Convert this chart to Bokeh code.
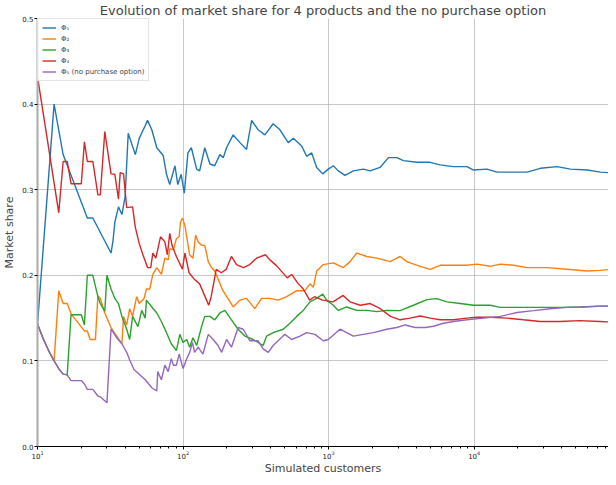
import numpy as np
from bokeh.plotting import figure
from bokeh.models import FixedTicker, NumeralTickFormatter, Legend, LegendItem, LogTicker
from bokeh.embed import file_html
from bokeh.resources import INLINE

# ---- data ----
phi1_n = [10, 13, 15, 22, 24, 32, 33, 34, 36, 38, 40, 42, 47, 50, 55, 57, 61, 66, 73, 77, 81, 88, 92, 97,
          102, 108, 114, 124, 130, 141, 153, 165, 179, 189, 199, 221, 246, 273, 296, 328, 365, 416, 463,
          528, 572, 653, 707, 765, 828, 911, 995, 1077, 1166, 1297, 1479, 1733, 1927, 2258, 2576, 2943,
          3267, 4040, 4988, 5845, 7213, 8925, 9906, 12250, 14360, 17720, 23090, 28500, 37140, 45850,
          59750, 73770, 100000]
phi1_v = [0.143, 0.400, 0.341, 0.267, 0.267, 0.226, 0.240, 0.262, 0.280, 0.271, 0.292, 0.366, 0.341,
          0.360, 0.375, 0.381, 0.370, 0.349, 0.340, 0.318, 0.306, 0.328, 0.306, 0.318, 0.296, 0.343,
          0.349, 0.324, 0.322, 0.349, 0.330, 0.328, 0.341, 0.3375, 0.349, 0.364, 0.355, 0.347, 0.381,
          0.370, 0.364, 0.377, 0.370, 0.355, 0.360, 0.351, 0.339, 0.343, 0.326, 0.3185, 0.324, 0.328,
          0.322, 0.3167, 0.322, 0.324, 0.322, 0.326, 0.3375, 0.3375, 0.334, 0.332, 0.332, 0.329, 0.327,
          0.327, 0.323, 0.324, 0.3205, 0.3205, 0.3205, 0.325, 0.327, 0.324, 0.323, 0.3205, 0.319]

phi2_n = [10, 11, 12, 13, 14, 15, 16, 17, 21, 22, 23, 25, 26, 27, 29, 32, 38, 39, 41, 43, 45, 48, 50, 54,
          56, 59, 62, 66, 71, 75, 79, 81, 86, 90, 94, 96, 99, 103, 111, 117, 122, 127, 134, 141, 149, 157,
          165, 188, 221, 246, 273, 311, 346, 395, 451, 515, 603, 688, 745, 785, 828, 919, 1077, 1262,
          1404, 1561, 1829, 2143, 2646, 3100, 3447, 4256, 4988, 5845, 7213, 8925, 10450, 12900, 15120,
          18670, 23090, 31700, 43520, 59750, 73770, 100000]
phi2_v = [0.143, 0.125, 0.111, 0.100, 0.182, 0.167, 0.167, 0.155, 0.135, 0.135, 0.125, 0.125, 0.176,
          0.173, 0.156, 0.139, 0.120, 0.152, 0.142, 0.161, 0.152, 0.175, 0.167, 0.173, 0.184, 0.184,
          0.201, 0.209, 0.201, 0.220, 0.218, 0.231, 0.230, 0.243, 0.245, 0.262, 0.267, 0.258, 0.224,
          0.220, 0.247, 0.239, 0.235, 0.235, 0.216, 0.209, 0.205, 0.182, 0.163, 0.171, 0.173, 0.161,
          0.173, 0.173, 0.171, 0.175, 0.182, 0.182, 0.190, 0.186, 0.205, 0.2125, 0.2145, 0.209, 0.216,
          0.226, 0.222, 0.220, 0.216, 0.222, 0.216, 0.2105, 0.207, 0.2117, 0.2117, 0.2117, 0.213,
          0.2105, 0.213, 0.2117, 0.209, 0.209, 0.207, 0.205, 0.2057, 0.208]

phi3_n = [10, 11, 12, 13, 14, 15, 16, 17, 20, 21, 22, 24, 26, 27, 29, 30, 32, 34, 36, 38, 41, 43, 45, 49,
          52, 55, 56, 61, 66, 71, 77, 83, 90, 95, 100, 106, 111, 117, 124, 134, 141, 153, 165, 179, 194,
          215, 239, 266, 303, 355, 375, 416, 488, 542, 603, 670, 745, 828, 911, 970, 1077, 1166, 1330,
          1561, 1829, 2143, 2510, 3100, 3828, 4733, 5546, 6498, 8027, 9906, 12900, 15120, 20760, 28500,
          38800, 53000, 73770, 100000]
phi3_v = [0.143, 0.125, 0.111, 0.100, 0.0909, 0.0845, 0.0837, 0.154, 0.154, 0.142, 0.200, 0.200, 0.175,
          0.167, 0.158, 0.200, 0.184, 0.173, 0.167, 0.152, 0.137, 0.125, 0.152, 0.140, 0.159, 0.150,
          0.171, 0.163, 0.156, 0.146, 0.133, 0.120, 0.112, 0.131, 0.1216, 0.125, 0.116, 0.127, 0.118,
          0.140, 0.152, 0.152, 0.148, 0.156, 0.159, 0.148, 0.137, 0.129, 0.125, 0.118, 0.129, 0.133,
          0.137, 0.144, 0.152, 0.159, 0.169, 0.173, 0.178, 0.171, 0.165, 0.159, 0.163, 0.159, 0.159,
          0.1576, 0.159, 0.1587, 0.165, 0.1716, 0.1727, 0.169, 0.167, 0.165, 0.165, 0.1625, 0.1625,
          0.1625, 0.1625, 0.163, 0.164, 0.164]

phi4_n = [10, 14, 15, 16, 17, 20, 21, 22, 24, 26, 27, 29, 32, 34, 36, 37, 39, 41, 45, 47, 50, 53, 57, 60,
          62, 65, 70, 75, 78, 81, 84, 90, 99, 103, 110, 120, 130, 145, 150, 156, 162, 169, 183, 198, 208,
          215, 233, 260, 287, 320, 368, 395, 440, 520, 557, 620, 670, 740, 800, 910, 1070, 1260, 1400,
          1650, 1930, 2270, 2660, 3100, 3630, 4260, 4990, 5840, 7200, 8900, 10400, 12900, 16800, 21800,
          28400, 38800, 53000, 73000, 100000]
phi4_v = [0.432, 0.273, 0.333, 0.333, 0.307, 0.307, 0.356, 0.333, 0.333, 0.294, 0.294, 0.368, 0.3185,
          0.318, 0.289, 0.320, 0.3185, 0.279, 0.280, 0.256, 0.237, 0.224, 0.209, 0.209, 0.226, 0.220,
          0.245, 0.239, 0.224, 0.249, 0.235, 0.222, 0.207, 0.226, 0.203, 0.195, 0.190, 0.171, 0.165,
          0.175, 0.190, 0.207, 0.203, 0.207, 0.216, 0.222, 0.2125, 0.209, 0.2125, 0.220, 0.224, 0.218,
          0.211, 0.197, 0.201, 0.190, 0.184, 0.171, 0.175, 0.171, 0.169, 0.1765, 0.169, 0.165, 0.167,
          0.161, 0.152, 0.148, 0.150, 0.1525, 0.150, 0.148, 0.148, 0.150, 0.151, 0.151, 0.150, 0.148,
          0.146, 0.146, 0.147, 0.146, 0.145]

phi5_n = [10, 11, 12, 13, 14, 15, 16, 17, 20, 21, 22, 24, 26, 27, 30, 32, 33, 35, 38, 41, 43, 46, 55, 61,
          66, 67, 71, 75, 79, 83, 86, 90, 94, 100, 106, 111, 116, 120, 127, 137, 149, 161, 174, 184, 199,
          215, 239, 259, 288, 328, 355, 385, 416, 501, 557, 636, 707, 806, 919, 995, 1198, 1332, 1479,
          1733, 2032, 2511, 2943, 3357, 3932, 4607, 5255, 6157, 7213, 8925, 11600, 15120, 19700, 25650,
          33400, 43520, 56600, 73770, 100000]
phi5_v = [0.143, 0.125, 0.111, 0.100, 0.0909, 0.0845, 0.0837, 0.077, 0.077, 0.073, 0.0667, 0.0667,
          0.059, 0.058, 0.051, 0.137, 0.134, 0.127, 0.120, 0.110, 0.101, 0.090, 0.078, 0.0686, 0.0648,
          0.0875, 0.078, 0.095, 0.0875, 0.1026, 0.095, 0.095, 0.108, 0.091, 0.1026, 0.110, 0.1216,
          0.110, 0.116, 0.108, 0.131, 0.125, 0.118, 0.110, 0.125, 0.116, 0.139, 0.137, 0.1235, 0.1235,
          0.114, 0.110, 0.118, 0.131, 0.125, 0.129, 0.133, 0.131, 0.1235, 0.125, 0.137, 0.133, 0.129,
          0.131, 0.133, 0.137, 0.139, 0.142, 0.139, 0.139, 0.1405, 0.144, 0.146, 0.148, 0.150, 0.152,
          0.1565, 0.1587, 0.161, 0.1625, 0.163, 0.164, 0.164]

series_labels = ["Φ₁", "Φ₂", "Φ₃", "Φ₄", "Φ₅ (no purchase option)"]
y_ticks = [0.0, 0.1, 0.2, 0.3, 0.4, 0.5]
x_start, x_end = 10, 83750   # visible part of the customer axis (reference is cut just before 10^5)

colors = ["#1f77b4", "#ff7f0e", "#2ca02c", "#d62728", "#9467bd"]
FONT = "DejaVu Sans"

p = figure(width=608, height=477, x_axis_type="log", x_range=(x_start, x_end), y_range=(0, 0.5),
           output_backend="svg", toolbar_location=None,
           title="Evolution of market share for 4 products and the no purchase option",
           min_border_left=4, min_border_right=0, min_border_top=0, min_border_bottom=0)

p.title.text_font = FONT
p.title.text_font_size = "13px"
p.title.text_font_style = "normal"
p.title.align = "center"
p.title.standoff = 1
p.title.offset = 0

series = [(phi1_n, phi1_v), (phi2_n, phi2_v), (phi3_n, phi3_v), (phi4_n, phi4_v), (phi5_n, phi5_v)]
items = []
for (n, v), c, lab in zip(series, colors, series_labels):
    r = p.line(n, v, line_color=c, line_width=1.4)
    items.append(LegendItem(label=lab, renderers=[r]))

legend = Legend(items=items, location="top_left")
legend.margin = 0
legend.padding = 4
legend.spacing = 2
legend.label_height = 9
legend.glyph_height = 9
legend.glyph_width = 14
legend.label_standoff = 5
legend.label_text_font = FONT
legend.label_text_font_size = "7px"
legend.border_line_color = "#cccccc"
legend.background_fill_alpha = 0.8
p.add_layout(legend)

p.yaxis.ticker = FixedTicker(ticks=y_ticks)
p.yaxis.formatter = NumeralTickFormatter(format="0.0")
p.xaxis.ticker = LogTicker(num_minor_ticks=10)

for ax in (p.xaxis, p.yaxis):
    ax.major_label_text_font = FONT
    ax.major_label_text_font_size = "7px"
    ax.major_label_text_color = "#222222"
    ax.axis_label_text_font = FONT
    ax.axis_label_text_font_size = "11px"
    ax.axis_label_text_font_style = "normal"
    ax.major_tick_in = 0
    ax.major_tick_out = 3
    ax.minor_tick_in = 0
    ax.minor_tick_out = 2
    ax.major_label_standoff = 1
    ax.axis_label_standoff = 0

p.xaxis.axis_label = "Simulated customers"
p.yaxis.axis_label = "Market share"
p.yaxis.axis_label_standoff = 3
p.yaxis.minor_tick_line_color = None
p.yaxis.axis_line_color = "#aaaaaa"
p.yaxis.axis_line_width = 2

p.grid.grid_line_color = "#b0b0b0"
p.grid.grid_line_alpha = 0.7
p.outline_line_color = None
p.background_fill_color = "white"

open("out.html", "w").write(file_html(p, INLINE))
